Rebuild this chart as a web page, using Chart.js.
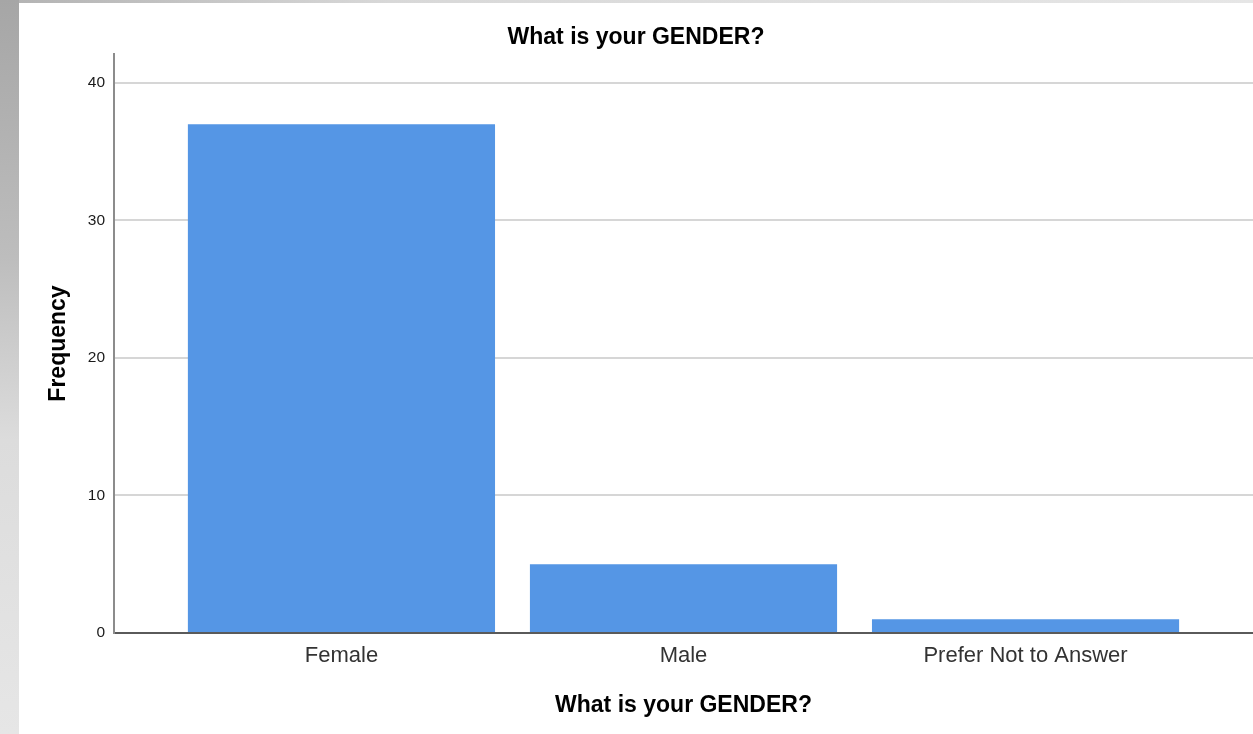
<!DOCTYPE html>
<html>
<head>
<meta charset="utf-8">
<title>What is your GENDER?</title>
<script src="https://cdn.jsdelivr.net/npm/chart.js@4"></script>
<style>
    html, body { margin: 0; padding: 0; }
    body {
        width: 1253px;
        height: 734px;
        overflow: hidden;
        background: linear-gradient(to bottom, #a6a6a6 0%, #bdbdbd 35%, #dcdcdc 60%, #e6e6e6 100%);
        position: relative;
    }
    #topbar {
        position: absolute;
        left: 19px;
        top: 0;
        width: 1234px;
        height: 3px;
        background: linear-gradient(to right, #b4b4b4 0%, #d8d8d8 30%, #e6e6e6 100%);
    }
    #wrap {
        position: absolute;
        left: 19px;
        top: 3px;
        width: 1234px;
        height: 731px;
        background: #fff;
    }
</style>
</head>
<body>
<div id="topbar"></div>
<div id="wrap"><canvas id="chart" width="1234" height="731"></canvas></div>
<script>
// Data
const categories = ['Female', 'Male', 'Prefer Not to Answer'];
const frequencies = [37, 5, 1];
const yTicks = [0, 10, 20, 30, 40];

const chartTitle = 'What is your GENDER?';
const xTitle = 'What is your GENDER?';
const yTitle = 'Frequency';

const FONT = '"Liberation Sans", Arial, sans-serif';
const BAR = '#5596e5';

const ctx = document.getElementById('chart').getContext('2d');
const chart = new Chart(ctx, {
    type: 'bar',
    data: {
        datasets: [{
            label: yTitle,
            data: frequencies.map((v, i) => ({ x: i, y: v })),
            backgroundColor: BAR,
            borderWidth: 0,
            barPercentage: 0.898,
            categoryPercentage: 1
        }]
    },
    options: {
        responsive: false,
        animation: false,
        layout: { padding: 0 },
        plugins: {
            legend: { display: false },
            tooltip: { enabled: false },
            title: {
                display: true,
                text: chartTitle,
                color: '#000',
                font: { family: FONT, size: 23, weight: 'bold', lineHeight: 1.2 },
                padding: { top: 21.2, bottom: 2.2 }
            }
        },
        scales: {
            x: {
                type: 'linear',
                offset: false,
                min: -0.665,
                max: 2.665,
                afterBuildTicks: (scale) => {
                    scale.ticks = categories.map((c, i) => ({ value: i }));
                },
                afterFit: (scale) => { scale.height = 101; },
                ticks: {
                    autoSkip: false,
                    maxRotation: 0,
                    padding: 10,
                    color: '#333',
                    font: { family: FONT, size: 22 },
                    callback: (v) => categories[v]
                },
                grid: { display: false, drawTicks: false, offset: false },
                border: { display: true, color: '#5a5a5a', width: 2 },
                title: {
                    display: true,
                    text: xTitle,
                    color: '#000',
                    font: { family: FONT, size: 23, weight: 'bold', lineHeight: 1.2 },
                    padding: { top: 0, bottom: 14.7 }
                }
            },
            y: {
                min: 0,
                max: 42.1,
                afterBuildTicks: (scale) => {
                    scale.ticks = yTicks.map(v => ({ value: v }));
                },
                afterFit: (scale) => { scale.width = 95; },
                ticks: {
                    padding: 9,
                    color: '#1a1a1a',
                    font: { family: FONT, size: 15.5 }
                },
                grid: {
                    drawTicks: false,
                    lineWidth: 2,
                    color: (c) => c.tick && c.tick.value === 0 ? 'rgba(0,0,0,0)' : '#d6d6d6'
                },
                border: { display: true, color: '#8c8c8c', width: 2 },
                title: {
                    display: true,
                    text: yTitle,
                    color: '#000',
                    font: { family: FONT, size: 23, weight: 'bold', lineHeight: 1.2 },
                    padding: { top: 25.5, bottom: 0 }
                }
            }
        }
    }
});
</script>
</body>
</html>
